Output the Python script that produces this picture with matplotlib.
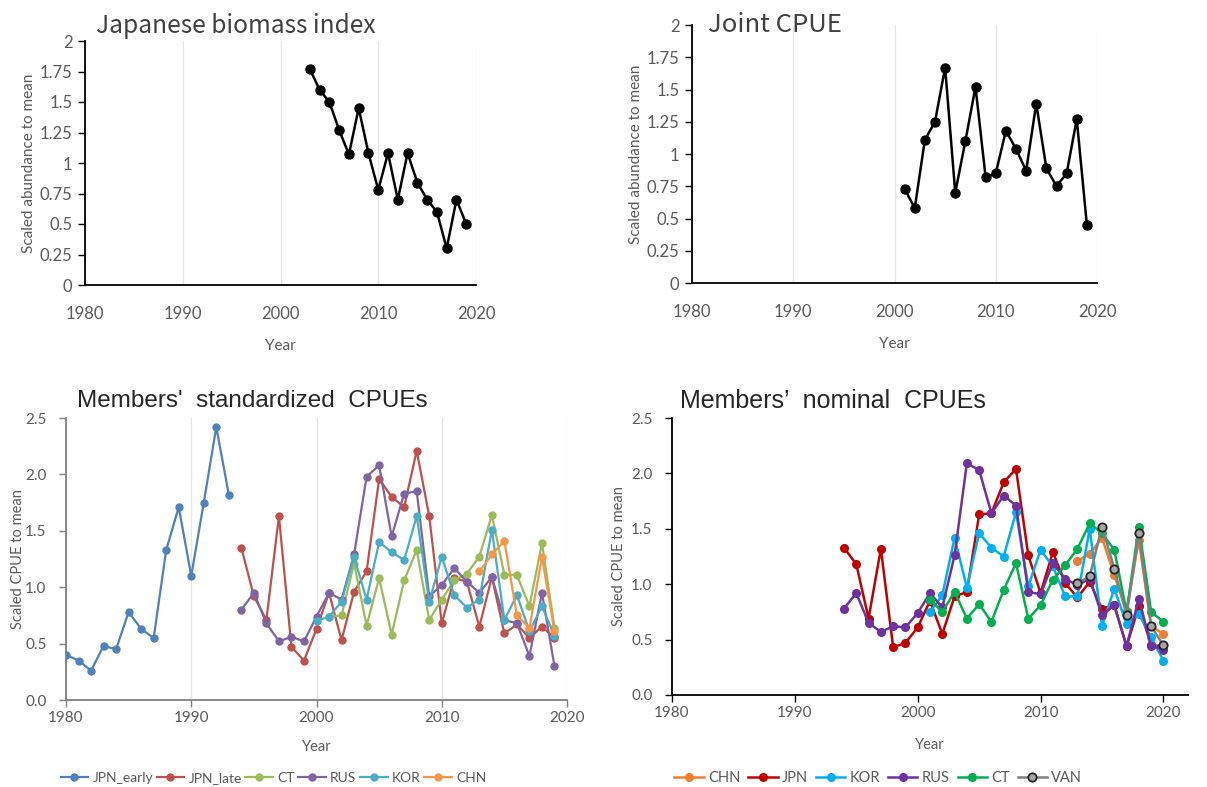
import matplotlib
matplotlib.use('Agg')
import matplotlib.pyplot as plt

# ---------------- data ----------------
bio_years = list(range(2003, 2020))
bio_vals = [1.77, 1.60, 1.50, 1.27, 1.07, 1.45, 1.08, 0.78, 1.08, 0.70, 1.08, 0.84, 0.70, 0.60, 0.30, 0.70, 0.50]

joint_years = list(range(2001, 2020))
joint_vals = [0.73, 0.58, 1.11, 1.25, 1.67, 0.70, 1.10, 1.52, 0.82, 0.85, 1.18, 1.04, 0.87, 1.39, 0.89, 0.75, 0.85, 1.27, 0.45]

top_yticks = [0, 0.25, 0.5, 0.75, 1, 1.25, 1.5, 1.75, 2]
top_yticklabels = ['0', '0.25', '0.5', '0.75', '1', '1.25', '1.5', '1.75', '2']
xticks = [1980, 1990, 2000, 2010, 2020]
bottom_yticks = [0.0, 0.5, 1.0, 1.5, 2.0, 2.5]

# standardized CPUEs
std_names = ['JPN_early', 'JPN_late', 'CT', 'RUS', 'KOR', 'CHN']
std_jpn_early_years = list(range(1980, 1994))
std_jpn_early = [0.40, 0.35, 0.26, 0.48, 0.45, 0.78, 0.63, 0.55, 1.33, 1.71, 1.10, 1.75, 2.42, 1.82]
std_jpn_late_years = list(range(1994, 2020))
std_jpn_late = [1.35, 0.92, 0.71, 1.63, 0.47, 0.35, 0.63, 0.95, 0.53, 0.96, 1.14, 1.96, 1.80, 1.71, 2.21, 1.63,
                0.68, 1.08, 1.05, 0.65, 1.09, 0.59, 0.67, 0.55, 0.65, 0.55]
std_ct_years = list(range(2001, 2020))
std_ct = [0.74, 0.75, 1.21, 0.66, 1.08, 0.58, 1.06, 1.33, 0.71, 0.89, 1.06, 1.12, 1.27, 1.64, 1.11, 1.11, 0.83, 1.39, 0.64]
std_rus_years = list(range(1994, 2020))
std_rus = [0.80, 0.95, 0.68, 0.52, 0.56, 0.52, 0.74, 0.95, 0.89, 1.29, 1.98, 2.08, 1.45, 1.83, 1.85, 0.92,
           1.02, 1.17, 1.05, 0.95, 1.09, 0.71, 0.68, 0.39, 0.95, 0.30]
std_kor_years = list(range(2000, 2020))
std_kor = [0.70, 0.74, 0.87, 1.27, 0.89, 1.40, 1.31, 1.24, 1.63, 0.87, 1.27, 0.93, 0.82, 0.89, 1.51, 0.71, 0.93, 0.61, 0.83, 0.57]
std_chn_years = list(range(2013, 2020))
std_chn = [1.14, 1.29, 1.41, 0.75, 0.64, 1.27, 0.61]

# nominal CPUEs
nom_names = ['CHN', 'JPN', 'KOR', 'RUS', 'CT', 'VAN']
nom_chn_years = list(range(2013, 2021))
nom_chn = [1.21, 1.27, 1.42, 1.08, 0.76, 1.40, 0.62, 0.55]
nom_jpn_years = list(range(1994, 2021))
nom_jpn = [1.33, 1.18, 0.69, 1.32, 0.43, 0.47, 0.61, 0.85, 0.55, 0.89, 0.93, 1.63, 1.64, 1.92, 2.04, 1.26,
           0.92, 1.29, 1.01, 0.88, 1.02, 0.78, 0.81, 0.44, 0.80, 0.45, 0.44]
nom_kor_years = list(range(2001, 2021))
nom_kor = [0.75, 0.90, 1.42, 0.97, 1.46, 1.33, 1.25, 1.65, 0.98, 1.31, 1.16, 0.89, 0.89, 1.50, 0.62, 0.96, 0.64, 0.73, 0.52, 0.31]
nom_rus_years = list(range(1994, 2021))
nom_rus = [0.78, 0.92, 0.65, 0.57, 0.62, 0.61, 0.74, 0.92, 0.79, 1.26, 2.09, 2.03, 1.64, 1.80, 1.71, 0.93,
           0.91, 1.19, 1.05, 0.99, 1.05, 0.72, 0.81, 0.44, 0.87, 0.44, 0.41]
nom_ct_years = list(range(2001, 2021))
nom_ct = [0.86, 0.75, 0.93, 0.69, 0.82, 0.66, 0.95, 1.19, 0.69, 0.81, 1.04, 1.17, 1.32, 1.55, 1.46, 1.31, 0.75, 1.52, 0.75, 0.66]
nom_van_years = list(range(2013, 2021))
nom_van = [1.01, 1.07, 1.52, 1.14, 0.72, 1.46, 0.62, 0.45]

# ---------------- styling ----------------
TICK_FONT = 'Lato'
JP_FONT = ['Noto Sans CJK JP', 'DejaVu Sans']
TXT = '#595959'

fig = plt.figure(figsize=(12.07, 7.87), dpi=100)
W, H = 1207.0, 787.0


def add_axes(l, r, t, b):
    return fig.add_axes([l / W, 1 - b / H, (r - l) / W, (b - t) / H])


def style_top(ax, title, title_xy, title_size):
    ax.set_xlim(1980, 2020)
    ax.set_ylim(0, 2)
    ax.set_yticks(top_yticks)
    ax.set_yticklabels(top_yticklabels)
    ax.set_xticks(xticks)
    for s in ['top', 'right']:
        ax.spines[s].set_visible(False)
    for s in ['left', 'bottom']:
        ax.spines[s].set_color('#000000')
        ax.spines[s].set_linewidth(1.3)
    ax.tick_params(axis='y', length=5, width=1, color='#000000', labelsize=12, labelcolor=TXT, pad=4)
    ax.tick_params(axis='x', length=0, labelsize=12, labelcolor=TXT, pad=15)
    for lab in ax.get_xticklabels() + ax.get_yticklabels():
        lab.set_family(TICK_FONT)
    ax.grid(axis='x', color='#e6e6e6', linewidth=1)
    ax.set_axisbelow(True)
    ax.set_xlabel('Year', fontsize=11, color=TXT, family=TICK_FONT, labelpad=12)
    ax.set_ylabel('Scaled abundance to mean', fontsize=11, color=TXT, family=TICK_FONT, labelpad=3)
    fig.text(title_xy[0] / W, 1 - title_xy[1] / H, title, fontsize=title_size, color='#404040',
             family=JP_FONT, va='center', ha='left')


# Top-left
ax1 = add_axes(85, 476, 41, 285)
ax1.plot(bio_years, bio_vals, color='black', lw=1.8, marker='o', ms=6.5, zorder=3)
style_top(ax1, 'Japanese biomass index', (96, 26), 17.7)

# Top-right
ax2 = add_axes(692, 1097, 25, 283)
ax2.plot(joint_years, joint_vals, color='black', lw=1.8, marker='o', ms=6.5, zorder=3)
style_top(ax2, 'Joint CPUE', (708, 25), 18.5)


def style_bottom(ax, title, xmax, spine_color, grid, title_x, title_size, xlabelpad, ylabelpad):
    ax.set_xlim(1980, xmax)
    ax.set_ylim(0, 2.5)
    ax.set_yticks(bottom_yticks)
    ax.set_yticklabels(['%.1f' % v for v in bottom_yticks])
    ax.set_xticks(xticks)
    for s in ['top', 'right']:
        ax.spines[s].set_visible(False)
    for s in ['left', 'bottom']:
        ax.spines[s].set_color(spine_color)
        ax.spines[s].set_linewidth(1.3)
    ax.tick_params(axis='y', length=5, width=1, color=spine_color, labelsize=11, labelcolor=TXT, pad=9)
    ax.tick_params(axis='x', length=5, width=1, color=spine_color, labelsize=11, labelcolor=TXT, pad=3)
    for lab in ax.get_xticklabels() + ax.get_yticklabels():
        lab.set_family(TICK_FONT)
    if grid:
        ax.grid(axis='x', color='#e6e6e6', linewidth=1)
    ax.set_axisbelow(True)
    ax.set_xlabel('Year', fontsize=10.5, color=TXT, family=TICK_FONT, labelpad=xlabelpad)
    ax.set_ylabel('Scaled CPUE to mean', fontsize=10.5, color=TXT, family=TICK_FONT, labelpad=ylabelpad)
    fig.text(title_x / W, 1 - 401 / H, title, fontsize=title_size, color='#262626',
             family='Liberation Sans', va='center', ha='left')


# Bottom-left (standardized)
ax3 = add_axes(66, 567, 418, 700)
std_series = [
    (std_jpn_early_years, std_jpn_early, '#4F81BD'),
    (std_jpn_late_years, std_jpn_late, '#C0504D'),
    (std_ct_years, std_ct, '#9BBB59'),
    (std_rus_years, std_rus, '#8064A2'),
    (std_kor_years, std_kor, '#4BACC6'),
    (std_chn_years, std_chn, '#F79646'),
]
for name, (xs, ys, c) in zip(std_names, std_series):
    ax3.plot(xs, ys, color=c, lw=1.6, marker='o', ms=5, label=name, zorder=3)
style_bottom(ax3, "Members'  standardized  CPUEs", 2020, '#808080', True, 77, 17.5, 11, 0)
ax3.legend(loc='center', bbox_to_anchor=(0.414, -0.276), ncol=6, frameon=False,
           prop={'family': TICK_FONT, 'size': 10}, labelcolor=TXT, handlelength=2.0,
           handletextpad=0.3, columnspacing=0.25, borderpad=0, borderaxespad=0)

# Bottom-right (nominal)
ax4 = add_axes(672, 1188, 418, 695)
nom_series = [
    (nom_chn_years, nom_chn, '#ED7D31'),
    (nom_jpn_years, nom_jpn, '#C00000'),
    (nom_kor_years, nom_kor, '#00B0F0'),
    (nom_rus_years, nom_rus, '#7030A0'),
    (nom_ct_years, nom_ct, '#00B050'),
]
for name, (xs, ys, c) in zip(nom_names[:5], nom_series):
    ax4.plot(xs, ys, color=c, lw=1.8, marker='o', ms=5.5, label=name, zorder=3)
ax4.plot(nom_van_years, nom_van, color='#7f7f7f', lw=1.8, marker='o', ms=6, mfc='#a6a6a6',
         mec='#262626', mew=1.3, label=nom_names[5], zorder=4)
style_bottom(ax4, "Members\u2019  nominal  CPUEs", 2022, '#000000', False, 680, 18, 13, 4)
ax4.legend(loc='center', bbox_to_anchor=(0.40, -0.30), ncol=6, frameon=False,
           prop={'family': TICK_FONT, 'size': 10.5}, labelcolor=TXT, handlelength=2.0,
           handletextpad=0.3, columnspacing=0.55, borderpad=0, borderaxespad=0)

fig.savefig('out.png', dpi=100, facecolor='white')
